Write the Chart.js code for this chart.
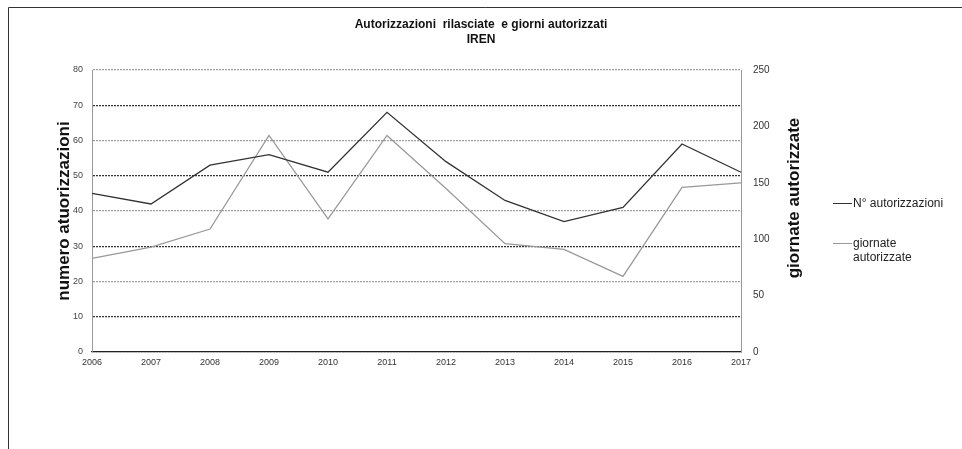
<!DOCTYPE html>
<html>
<head>
<meta charset="utf-8">
<script src="https://cdn.jsdelivr.net/npm/chart.js@4.4.1/dist/chart.umd.min.js"></script>
<style>
  html, body { margin: 0; padding: 0; background: #fff; }
  #wrap { position: relative; width: 962px; height: 449px; }
  .leg { position: absolute; left: 833px; font: 12px "Liberation Sans", Arial, sans-serif; color: #222; line-height: 14px; }
  .leg .swatch { position: absolute; left: 0; top: 7px; width: 19px; height: 0; border-top: 1px solid; }
  .leg .txt { margin-left: 20px; }
</style>
</head>
<body>
<div id="wrap">
  <canvas id="myChart" width="962" height="449"></canvas>
  <div class="leg" id="leg1" style="top:196px"><span class="swatch" style="border-color:#333"></span><div class="txt"></div></div>
  <div class="leg" id="leg2" style="top:236px"><span class="swatch" style="border-color:#999"></span><div class="txt"></div></div>
</div>
<script>
const years = ['2006', '2007', '2008', '2009', '2010', '2011', '2012', '2013', '2014', '2015', '2016', '2017'];
const autorizzazioni = [45, 42, 53, 56, 51, 68, 54, 43, 37, 41, 59, 51];
const giornate = [83, 93, 109, 192, 118, 192, 145, 96, 91, 67, 146, 150];
const leftTicks = [0, 10, 20, 30, 40, 50, 60, 70, 80];
const rightTicks = [0, 50, 100, 150, 200, 250];

const FONT = '"Liberation Sans", Arial, sans-serif';

document.querySelector('#leg1 .txt').textContent = 'N° autorizzazioni';
document.querySelector('#leg2 .txt').innerHTML = 'giornate<br>autorizzate';

// outer frame (top + left edge) and right axis title
const extras = {
  id: 'extras',
  beforeDraw(chart) {
    const c = chart.ctx;
    c.save();
    c.strokeStyle = '#333';
    c.lineWidth = 1;
    c.beginPath();
    c.moveTo(8.5, 449);
    c.lineTo(8.5, 7.5);
    c.lineTo(962, 7.5);
    c.stroke();
    c.restore();
  },
  afterDraw(chart) {
    const c = chart.ctx;
    c.save();
    c.translate(794, 198);
    c.rotate(-Math.PI / 2);
    c.font = 'bold 17px ' + FONT;
    c.fillStyle = '#111';
    c.textAlign = 'center';
    c.textBaseline = 'middle';
    c.fillText('giornate autorizzate', 0, 0);
    c.restore();
  }
};

const ctx = document.getElementById('myChart').getContext('2d');

const myChart = new Chart(ctx, {
    type: 'line',
    data: {
        labels: years,
        datasets: [{
            label: 'N° autorizzazioni',
            data: autorizzazioni,
            yAxisID: 'y',
            borderColor: '#333',
            borderWidth: 1.3,
            pointRadius: 0,
            tension: 0
        }, {
            label: 'giornate autorizzate',
            data: giornate,
            yAxisID: 'y1',
            borderColor: '#9a9a9a',
            borderWidth: 1.3,
            pointRadius: 0,
            tension: 0
        }]
    },
    options: {
        responsive: false,
        animation: false,
        layout: { padding: { left: 0, right: 0, top: 0, bottom: 0 } },
        plugins: {
            legend: { display: false },
            tooltip: { enabled: false },
            title: {
                display: true,
                text: ['Autorizzazioni  rilasciate  e giorni autorizzati', 'IREN'],
                color: '#111',
                font: { family: FONT, size: 12, weight: 'bold', lineHeight: 1.25 },
                padding: { top: 17, bottom: 23 }
            }
        },
        scales: {
            x: {
                offset: false,
                grid: { display: false, drawTicks: false },
                border: { color: '#222', width: 1.3 },
                ticks: { color: '#333', font: { family: FONT, size: 9 }, padding: 5, maxRotation: 0, autoSkip: false },
                afterFit(s) { s.height = 97; }
            },
            y: {
                position: 'left',
                min: 0,
                max: 80,
                afterBuildTicks(s) { s.ticks = leftTicks.map(v => ({ value: v })); },
                grid: {
                    drawTicks: false,
                    color: c => c.tick && c.tick.value % 20 === 10 ? '#333' : '#a0a0a0',
                    lineWidth: 1.2
                },
                border: { color: '#999', width: 1, dash: [2, 1] },
                ticks: { color: '#444', font: { family: FONT, size: 9 }, padding: 9 },
                title: {
                    display: true,
                    text: 'numero atuorizzazioni',
                    color: '#111',
                    font: { family: FONT, size: 17, weight: 'bold' },
                    padding: { top: 54, bottom: 0 }
                },
                afterFit(s) { s.width = 92; }
            },
            y1: {
                position: 'right',
                min: 0,
                max: 250,
                afterBuildTicks(s) { s.ticks = rightTicks.map(v => ({ value: v })); },
                grid: { display: false, drawTicks: false },
                border: { color: '#999', width: 1, dash: [2, 1] },
                ticks: { color: '#333', font: { family: FONT, size: 10 }, padding: 12 },
                afterFit(s) { s.width = 221; }
            }
        }
    },
    plugins: [extras]
});
</script>
</body>
</html>
